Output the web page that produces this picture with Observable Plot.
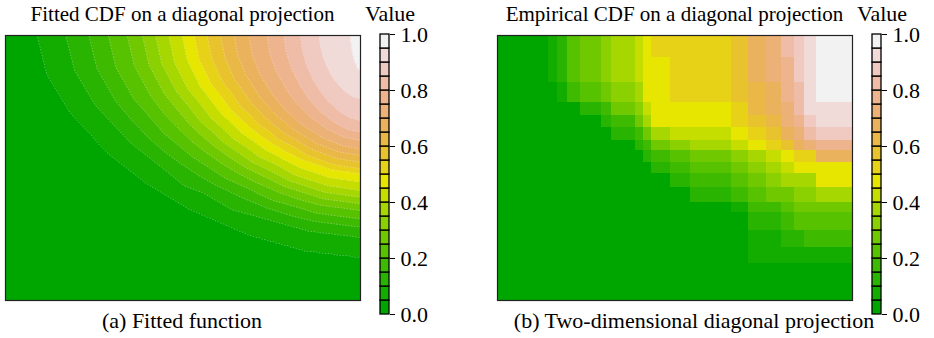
<!DOCTYPE html>
<html><head><meta charset="utf-8">
<script src="https://cdn.jsdelivr.net/npm/d3@7"></script>
<script src="https://cdn.jsdelivr.net/npm/@observablehq/plot@0.6"></script>
<style>
body{margin:0;background:#fff;}
#fig{position:relative;width:934px;height:338px;overflow:hidden;font-family:"Times New Roman",Times,"Liberation Serif",Tinos,"Noto Serif","DejaVu Serif",serif;color:#000;background:#fff;}
.t{position:absolute;white-space:nowrap;line-height:1;transform:translateX(-50%);font-family:"Times New Roman",Times,"Liberation Serif",Tinos,"Noto Serif","DejaVu Serif",serif;}
.p{position:absolute;}
.p svg{overflow:visible;max-width:none;}
.p svg text{font-family:"Times New Roman",Times,"Liberation Serif",Tinos,"Noto Serif","DejaVu Serif",serif !important;}
</style></head><body><div id="fig"></div>
<script>
// ---- colour bands (terrain palette, 20 levels) ----
const palette = ["#00A600","#13AD00","#28B400","#3EBB00","#56C200","#70C900","#8BD000","#A7D700","#C5DE00","#E6E600",
                 "#E7D217","#E8C32E","#E9B846","#EBB25E","#ECB176","#EDB48E","#EEBCA7","#F0C9C0","#F1DBD9","#F2F2F2"];
const levelBreaks = [0,0.05,0.1,0.15,0.2,0.25,0.3,0.35,0.4,0.45,0.5,0.55,0.6,0.65,0.7,0.75,0.8,0.85,0.9,0.95,1.0];
const legendTicks = [0,0.2,0.4,0.6,0.8,1.0];

// ---- panel (a): fitted CDF, points read along each level boundary ----
const fitLevels = [0.05,0.1,0.15,0.2,0.25,0.3,0.35,0.4,0.45,0.5,0.55,0.6,0.65,0.7,0.75,0.8,0.85,0.9,0.95];
const fitX = [
 [0.09,0.117,0.181,0.290,0.395,0.514,0.686,0.843,1],
 [0.17,0.195,0.253,0.353,0.448,0.557,0.714,0.856,1],
 [0.235,0.258,0.311,0.403,0.491,0.591,0.736,0.868,1],
 [0.29,0.311,0.361,0.446,0.528,0.621,0.755,0.877,1],
 [0.343,0.363,0.409,0.488,0.563,0.649,0.773,0.886,1],
 [0.386,0.404,0.447,0.521,0.592,0.672,0.788,0.894,1],
 [0.423,0.440,0.481,0.550,0.616,0.692,0.801,0.900,1],
 [0.46,0.476,0.514,0.579,0.641,0.712,0.814,0.907,1],
 [0.498,0.513,0.548,0.608,0.666,0.732,0.827,0.913,1],
 [0.531,0.545,0.578,0.634,0.688,0.750,0.838,0.919,1],
 [0.568,0.581,0.611,0.663,0.713,0.769,0.851,0.925,1],
 [0.606,0.618,0.645,0.693,0.738,0.790,0.864,0.932,1],
 [0.644,0.655,0.680,0.722,0.763,0.810,0.877,0.938,1],
 [0.686,0.695,0.717,0.755,0.791,0.832,0.892,0.946,1],
 [0.737,0.745,0.763,0.795,0.825,0.860,0.909,0.955,1],
 [0.784,0.791,0.806,0.832,0.856,0.885,0.926,0.963,1],
 [0.831,0.836,0.848,0.868,0.888,0.910,0.942,0.971,1],
 [0.883,0.887,0.895,0.909,0.922,0.938,0.960,0.980,1],
 [0.972,0.973,0.975,0.978,0.981,0.985,0.990,0.995,1]
];
const fitY = [
 [1,0.855,0.712,0.554,0.444,0.348,0.248,0.189,0.164],
 [1,0.868,0.737,0.594,0.494,0.406,0.315,0.262,0.239],
 [1,0.875,0.751,0.614,0.519,0.436,0.349,0.299,0.277],
 [1,0.880,0.761,0.630,0.540,0.460,0.377,0.329,0.308],
 [1,0.886,0.772,0.648,0.561,0.485,0.406,0.360,0.340],
 [1,0.890,0.781,0.661,0.578,0.505,0.429,0.384,0.365],
 [1,0.894,0.790,0.674,0.594,0.524,0.451,0.408,0.390],
 [1,0.899,0.798,0.688,0.611,0.544,0.474,0.433,0.415],
 [1,0.904,0.809,0.705,0.632,0.569,0.502,0.464,0.447],
 [1,0.910,0.820,0.721,0.653,0.593,0.530,0.494,0.478],
 [1,0.913,0.826,0.731,0.665,0.608,0.547,0.512,0.497],
 [1,0.917,0.835,0.745,0.682,0.627,0.570,0.536,0.522],
 [1,0.922,0.844,0.758,0.699,0.647,0.592,0.561,0.547],
 [1,0.926,0.852,0.771,0.715,0.666,0.615,0.585,0.572],
 [1,0.932,0.863,0.789,0.737,0.691,0.644,0.616,0.604],
 [1,0.937,0.874,0.805,0.757,0.715,0.672,0.646,0.635],
 [1,0.944,0.889,0.829,0.787,0.750,0.711,0.689,0.679],
 [1,0.959,0.918,0.872,0.841,0.814,0.785,0.768,0.761],
 [1,0.977,0.955,0.930,0.912,0.897,0.881,0.872,0.868]
];
const fitAnchorX = [0,0,1,1,0.5,0,0.3];
const fitAnchorY = [0,1,0,1,0,0.5,0.3];
const fitAnchorV = [0,0.03,0.03,0.98,0.01,0.01,0.0];

// ---- panel (b): empirical CDF, block values ----
const empXBreaks = [0,0.144,0.168,0.196,0.233,0.294,0.322,0.388,0.411,0.434,0.488,0.544,0.60,0.659,0.707,0.757,0.80,0.837,0.865,0.898,1];
const empYBreaks = [1,0.918,0.824,0.747,0.70,0.653,0.604,0.566,0.522,0.479,0.428,0.37,0.333,0.264,0.20,0.14,0];
const empValues = [
 [.02,.07,.12,.22,.27,.32,.37,.42,.47,.52,.52,.52,.52,.57,.67,.72,.82,.87,.92,.97],
 [.02,.07,.12,.22,.27,.32,.37,.42,.47,.47,.52,.52,.52,.57,.67,.72,.77,.87,.92,.97],
 [.02,.02,.07,.17,.22,.27,.32,.37,.47,.47,.52,.52,.52,.57,.62,.67,.77,.82,.92,.97],
 [.02,.02,.02,.02,.12,.17,.27,.32,.42,.47,.47,.47,.47,.52,.62,.67,.72,.82,.92,.92],
 [.02,.02,.02,.02,.02,.12,.17,.27,.37,.47,.47,.47,.47,.52,.57,.62,.72,.77,.87,.92],
 [.02,.02,.02,.02,.02,.02,.12,.17,.27,.37,.42,.42,.42,.47,.52,.57,.67,.72,.82,.87],
 [.02,.02,.02,.02,.02,.02,.02,.12,.17,.27,.32,.37,.37,.42,.47,.52,.57,.67,.72,.77],
 [.02,.02,.02,.02,.02,.02,.02,.02,.12,.17,.22,.27,.27,.32,.37,.42,.47,.52,.52,.67],
 [.02,.02,.02,.02,.02,.02,.02,.02,.02,.12,.17,.22,.22,.27,.32,.37,.42,.47,.47,.47],
 [.02,.02,.02,.02,.02,.02,.02,.02,.02,.02,.12,.17,.17,.22,.27,.32,.37,.37,.37,.47],
 [.02,.02,.02,.02,.02,.02,.02,.02,.02,.02,.02,.12,.12,.17,.22,.27,.27,.32,.32,.37],
 [.02,.02,.02,.02,.02,.02,.02,.02,.02,.02,.02,.02,.02,.07,.17,.17,.22,.27,.27,.27],
 [.02,.02,.02,.02,.02,.02,.02,.02,.02,.02,.02,.02,.02,.02,.12,.12,.17,.22,.22,.22],
 [.02,.02,.02,.02,.02,.02,.02,.02,.02,.02,.02,.02,.02,.02,.07,.07,.12,.12,.17,.17],
 [.02,.02,.02,.02,.02,.02,.02,.02,.02,.02,.02,.02,.02,.02,.07,.07,.07,.07,.07,.07],
 [.02,.02,.02,.02,.02,.02,.02,.02,.02,.02,.02,.02,.02,.02,.02,.02,.02,.02,.02,.02]
];

const titles = ["Fitted CDF on a diagonal projection","Empirical CDF on a diagonal projection"];
const captions = ["(a) Fitted function","(b) Two-dimensional diagonal projection"];
const legendTitle = "Value";

// ---------------------------------------------------------------
const fig = document.getElementById("fig");
const color = {type:"threshold", domain: levelBreaks.slice(1,20), range: palette};
const FONT = '"Times New Roman",Times,"Liberation Serif",Tinos,"Noto Serif","DejaVu Serif",serif';

function place(node, left, top){
  const d = document.createElement("div");
  d.className = "p"; d.style.left = left+"px"; d.style.top = top+"px";
  d.appendChild(node); fig.appendChild(d);
}
function text(str, cx, baseline, size){
  const d = document.createElement("div");
  d.className = "t"; d.textContent = str;
  d.style.fontSize = size+"px";
  d.style.left = cx+"px";
  d.style.top = (baseline - 0.8375*size)+"px";
  fig.appendChild(d);
}

// panel (a)
const fitted = [];
fitLevels.forEach((L,i)=>fitX[i].forEach((x,j)=>fitted.push({x, y: fitY[i][j], value: L})));
fitAnchorX.forEach((x,i)=>fitted.push({x, y: fitAnchorY[i], value: fitAnchorV[i]}));

const panelA = Plot.plot({
  width:357, height:267, margin:1,
  x:{domain:[0,1], axis:null}, y:{domain:[0,1], axis:null},
  color,
  marks:[
    Plot.raster(fitted,{x:"x", y:"y", fill:"value", interpolate:"barycentric", x1:0, x2:1, y1:0, y2:1}),
    Plot.contour(fitted,{x:"x", y:"y", value:"value", interpolate:"barycentric", x1:0, x2:1, y1:0, y2:1,
      thresholds: fitLevels, fill:"none", stroke:"white", strokeOpacity:0.45, strokeWidth:0.7, strokeDasharray:"1.5,1.5"}),
    Plot.frame({stroke:"#222", strokeWidth:1.2})
  ]
});
place(panelA, 4, 34);

// panel (b)
const cells = [];
empValues.forEach((row,i)=>row.forEach((v,j)=>cells.push({
  x1: empXBreaks[j], x2: empXBreaks[j+1], y1: empYBreaks[i+1], y2: empYBreaks[i], value: v})));
const panelB = Plot.plot({
  width:357, height:267, margin:1,
  x:{domain:[0,1], axis:null}, y:{domain:[0,1], axis:null},
  color,
  marks:[
    Plot.rect(cells,{x1:"x1", x2:"x2", y1:"y1", y2:"y2", fill:"value", shapeRendering:"crispEdges"}),
    Plot.frame({stroke:"#222", strokeWidth:1.2})
  ]
});
place(panelB, 496, 34);

// colour keys
function colorKey(){
  const legendCells = levelBreaks.slice(0,20).map((lo,i)=>({lo, hi: levelBreaks[i+1]}));
  return Plot.plot({
    width:90, height:306, marginLeft:10, marginRight:71, marginTop:20, marginBottom:6,
    style:{fontFamily:FONT, fontSize:"22px", color:"#000", background:"transparent", maxWidth:"none"},
    x:{domain:[0,1], axis:null},
    y:{domain:[0,1], axis:"right", ticks:legendTicks, tickFormat:d3.format(".1f"), tickSize:5, tickPadding:6, label:null},
    color,
    marks:[
      Plot.rect(legendCells,{x1:0, x2:1, y1:"lo", y2:"hi", fill:"lo", stroke:"#000", strokeWidth:1.3})
    ]
  });
}
place(colorKey(), 370, 14);
place(colorKey(), 862, 14);

// texts
text(titles[0], 182.5, 22, 21);
text(titles[1], 674.5, 22, 21);
text(legendTitle, 390, 21, 22);
text(legendTitle, 882, 21, 22);
text(captions[0], 182, 328, 22);
text(captions[1], 694, 328, 22);
</script></body></html>
